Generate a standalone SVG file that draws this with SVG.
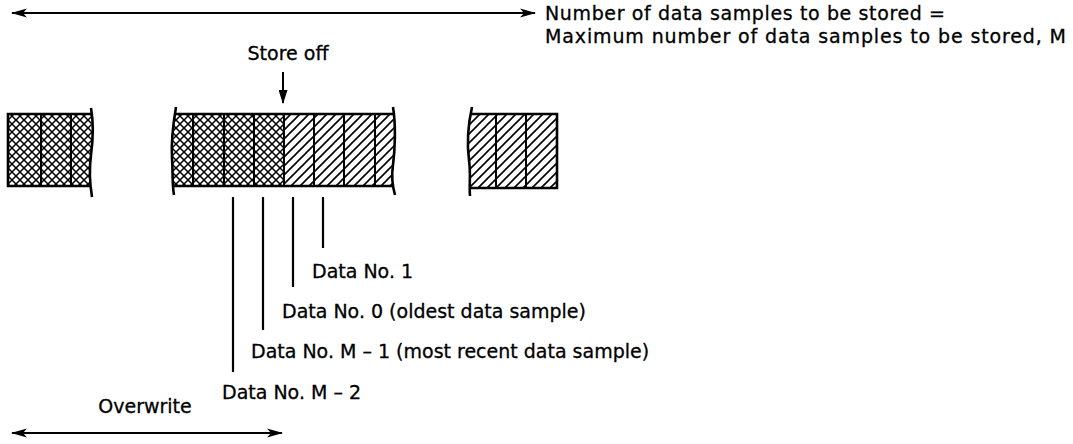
<svg xmlns="http://www.w3.org/2000/svg" width="1073" height="444" viewBox="0 0 1073 444">
<defs>
<style>
.t{font-family:"DejaVu Sans","Liberation Sans",sans-serif;font-size:19px;fill:#000;stroke:#000;stroke-width:0.3}
.ln{stroke:#000;stroke-width:2;fill:none}
.bd{stroke:#000;stroke-width:2.6;fill:none}
.lead{stroke:#000;stroke-width:2.2;fill:none}
</style>
<pattern id="cross" width="8" height="8" patternUnits="userSpaceOnUse">
<path d="M-1,-1 L9,9 M9,-1 L-1,9" stroke="#000" stroke-width="1.5"/>
</pattern>
<pattern id="diag" width="9" height="9" patternUnits="userSpaceOnUse">
<path d="M-1,10 L10,-1 M-3,3 L3,-3 M6,12 L12,6" stroke="#000" stroke-width="1.6"/>
</pattern>
<marker id="ah" viewBox="0 0 16 10" refX="15" refY="5" markerWidth="16" markerHeight="10" markerUnits="userSpaceOnUse" orient="auto-start-reverse">
<path d="M0,0.5 L16,5 L0,9.5 L4,5 z" fill="#000"/>
</marker>
<marker id="ahd" viewBox="0 0 14 9" refX="13" refY="4.5" markerWidth="14" markerHeight="9" markerUnits="userSpaceOnUse" orient="auto">
<path d="M0,0 L14,4.5 L0,9 z" fill="#000"/>
</marker>
</defs>
<rect width="1073" height="444" fill="#fff"/>

<g id="connectors">
<line class="ln" x1="12" y1="13" x2="535" y2="13" marker-start="url(#ah)" marker-end="url(#ah)"/>
<line class="ln" x1="283" y1="72" x2="283" y2="103" stroke-width="2.6" marker-end="url(#ahd)"/>
<line class="lead" x1="323" y1="197" x2="323" y2="248"/>
<line class="lead" x1="293" y1="197" x2="293" y2="287"/>
<line class="lead" x1="263" y1="197" x2="263" y2="330"/>
<line class="lead" x1="233" y1="197" x2="233" y2="372"/>
<line class="ln" x1="12" y1="433" x2="282" y2="433" marker-start="url(#ah)" marker-end="url(#ah)"/>
</g>

<g id="block-left">
<path d="M8,114 L91,114 C93,135 92,150 90,165 C89,175 90,180 91,186 L8,186 Z" fill="url(#cross)"/>
<path class="bd" d="M91,114 L8,114 L8,186 L91,186"/>
<line class="ln" x1="41" y1="114" x2="41" y2="186"/>
<line class="ln" x1="71" y1="114" x2="71" y2="186"/>
<path class="bd" d="M91,108 C94,125 93,140 91,155 C89,170 90,185 92,197"/>
</g>

<g id="block-middle">
<path d="M175,114 L284,114 L284,186 L173,186 C172,175 171,165 172,155 C173,140 174,125 175,114 Z" fill="url(#cross)"/>
<path d="M284,114 L394,114 C395,130 395,150 393,165 C392,175 393,180 393,186 L284,186 Z" fill="url(#diag)"/>
<path class="bd" d="M175,114 L394,114 M173,186 L394,186"/>
<path class="bd" d="M176,107 C173,125 171,142 172,158 C173,172 172,184 174,195"/>
<path class="bd" d="M393,107 C396,125 395,150 393,165 C391,178 393,188 395,195"/>
<line class="ln" x1="193" y1="114" x2="193" y2="186"/>
<line class="ln" x1="224" y1="114" x2="224" y2="186"/>
<line class="ln" x1="254" y1="114" x2="254" y2="186"/>
<line class="ln" x1="284" y1="114" x2="284" y2="186"/>
<line class="ln" x1="314" y1="114" x2="314" y2="186"/>
<line class="ln" x1="344" y1="114" x2="344" y2="186"/>
<line class="ln" x1="375" y1="114" x2="375" y2="186"/>
</g>

<g id="block-right">
<path d="M471,114 L557,114 L557,188 L469,188 C469,180 470,172 469,160 C468,145 469,125 471,114 Z" fill="url(#diag)"/>
<path class="bd" d="M471,114 L557,114 L557,188 L469,188"/>
<path class="bd" d="M472,107 C468,125 467,145 469,160 C471,175 469,185 470,196"/>
<line class="ln" x1="496" y1="114" x2="496" y2="188"/>
<line class="ln" x1="526" y1="114" x2="526" y2="188"/>
</g>

<g id="label-total">
<text class="t" x="545" y="20" textLength="400" lengthAdjust="spacing">Number of data samples to be stored =</text>
<text class="t" x="545" y="43" textLength="521" lengthAdjust="spacing">Maximum number of data samples to be stored, M</text>
</g>
<g id="label-storeoff"><text class="t" x="288" y="60" text-anchor="middle">Store off</text></g>
<g id="label-d1"><text class="t" x="312" y="278">Data No. 1</text></g>
<g id="label-d0"><text class="t" x="282" y="318">Data No. 0 (oldest data sample)</text></g>
<g id="label-dm1"><text class="t" x="251" y="358">Data No. M – 1 (most recent data sample)</text></g>
<g id="label-dm2"><text class="t" x="222" y="399">Data No. M – 2</text></g>
<g id="label-overwrite"><text class="t" x="145" y="413" text-anchor="middle">Overwrite</text></g>
</svg>
